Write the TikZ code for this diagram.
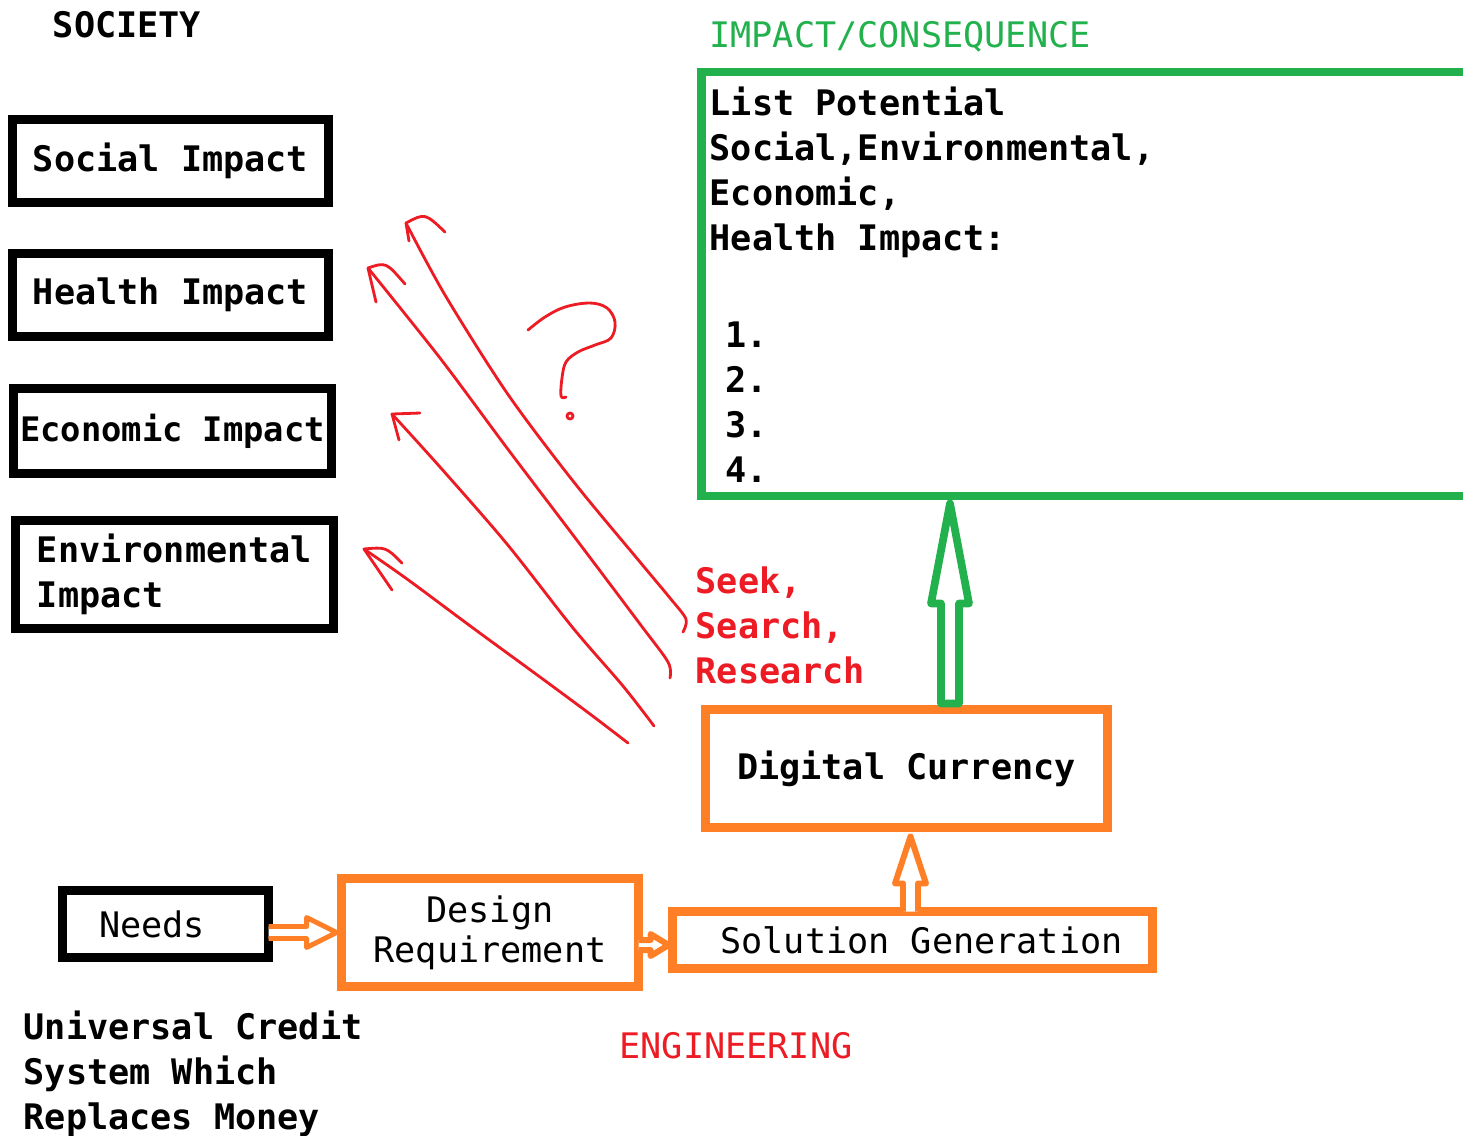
\documentclass[tikz,border=0pt]{standalone}
\usepackage{fontspec}
\setmainfont{DejaVu Sans Mono}
\usetikzlibrary{calc}

\definecolor{pgreen}{RGB}{34,177,76}
\definecolor{porange}{RGB}{255,127,39}
\definecolor{pred}{RGB}{237,28,36}

\tikzset{
  txt/.style={font=\fontsize{10}{12.8}\selectfont, inner sep=0pt},
  btxt/.style={font=\fontsize{10}{12.8}\selectfont\bfseries, inner sep=0pt},
  bbox/.style={btxt, draw=black, line width=2.5pt, outer sep=0pt},
  obox/.style={txt, draw=porange, line width=2.5pt, outer sep=0pt},
  hollow/.style={draw=#1, fill=white, line width=1.7pt, line join=round},
  pen/.style={draw=pred, line width=0.8pt, line cap=round, line join=round},
}

\begin{document}
\begin{tikzpicture}[x=0.01cm,y=-0.01cm]
\useasboundingbox (0,0) rectangle (1463,1135);

% society side
\node[btxt] (society) at (127,25) {SOCIETY};
\node[bbox, minimum width=3.16cm, minimum height=0.83cm] (social) at (170.5,161) {Social Impact};
\node[bbox, minimum width=3.16cm, minimum height=0.83cm] (health) at (170.5,295) {Health Impact};
\node[bbox, minimum width=3.18cm, minimum height=0.85cm, font=\fontsize{9.6}{12}\selectfont\bfseries] (economic) at (172.5,431) {Economic Impact};
\node[bbox, minimum width=3.18cm, minimum height=1.08cm, align=left] (environ) at (174.5,574.5) {Environmental\\Impact};

% engineering chain
\node[bbox, btxt, font=\fontsize{10}{12.8}\selectfont, minimum width=2.06cm, minimum height=0.67cm] (needs) at (165.5,924) {Needs\rule{0.27cm}{0pt}};
\node[obox, minimum width=2.97cm, minimum height=1.08cm, align=center, font=\fontsize{10}{11.4}\selectfont] (design) at (490,932.5) {Design\\Requirement};
\node[obox, minimum width=4.80cm, minimum height=0.57cm] (solution) at (912.5,940) {\rule{0.18cm}{0pt}Solution Generation};
\node[obox, btxt, minimum width=4.02cm, minimum height=1.18cm] (digital) at (906.5,768.5) {Digital Currency};

% impact box
\node[draw=pgreen, line width=2.3pt, inner sep=0pt, outer sep=0pt, minimum width=7.9cm, minimum height=4.24cm, anchor=north west] (impact) at (701.5,72) {};
\node[txt, text=pgreen] (impacthead) at (900,37) {IMPACT/CONSEQUENCE};
\node[btxt, align=left, anchor=north west] (impactlist) at (709,86) {List Potential\\Social,Environmental,\\Economic,\\Health Impact:\\[0.52cm]\hspace*{0.16cm}1.\\\hspace*{0.16cm}2.\\\hspace*{0.16cm}3.\\\hspace*{0.16cm}4.};

% labels
\node[btxt, text=pred, align=left, anchor=west] (seek) at (695,625) {Seek,\\Search,\\Research};
\node[txt, text=pred] (engineering) at (736,1046) {ENGINEERING};
\node[btxt, align=left, anchor=west] (ucs) at (23,1074) {Universal Credit\\System Which\\Replaces Money};

% hollow arrows
\coordinate (nbase) at (needs.east |- design.west);
\draw[hollow=porange, line width=1.4pt] (nbase) ++(0,-6) -- ++(38,0) -- ++(0,-9) -- ++(30,15) -- ++(-30,15) -- ++(0,-9) -- ++(-38,0);
\coordinate (dbase) at ($(design.east |- solution.west)+(0,5)$);
\draw[hollow=porange] (dbase) ++(0,-5) -- ++(12,0) -- ++(0,-6) -- ++(18,11) -- ++(-18,11) -- ++(0,-6) -- ++(-12,0);
\coordinate (sbase) at ($(solution.north)+(-2,0)$);
\draw[hollow=porange] (sbase) ++(-7.5,0) -- ++(0,-28) -- ++(-8,0) -- ++(15.5,-47) -- ++(15.5,47) -- ++(-8,0) -- ++(0,28);
\coordinate (gbase) at ($(digital.north)+(43.5,-6)$);
\draw[hollow=pgreen, line width=2.2pt] (gbase) ++(-9,0) -- ++(0,-100) -- ++(-10,0) -- ++(19,-100) -- ++(19,100) -- ++(-10,0) -- ++(0,100) -- cycle;

% red pen arrows
\coordinate (tip1) at (406,223);
\coordinate (tip2) at (368,268);
\coordinate (tip3) at (392,414);
\coordinate (tip4) at (364,549);
\coordinate (tail1) at (683,632);
\coordinate (tail2) at (670,678);
\coordinate (tail3) at (654,726);
\coordinate (tail4) at (628,743);
\draw[pen] plot[smooth] coordinates {(tail1) (686,619) (670,598) (640,562) (573,481) (507,393) (445,295) (tip1)};
\draw[pen] plot[smooth] coordinates {(tail2) (668,662) (640,624) (573,535) (507,448) (440,358) (tip2)};
\draw[pen] plot[smooth] coordinates {(tail3) (623,686) (573,628) (507,544) (440,467) (tip3)};
\draw[pen] plot[smooth] coordinates {(tail4) (590,714) (540,677) (473,628) (407,579) (tip4)};
\draw[pen] (445,232) .. controls (425,213) .. (tip1) -- (409,241);
\draw[pen] (405,284) .. controls (386,262) .. (tip2) -- (376,302);
\draw[pen] (420,413) -- (tip3) -- (399,440);
\draw[pen] (402,563) .. controls (386,547) .. (tip4) -- (392,590);

% question mark
\draw[pen] plot[smooth, tension=0.6] coordinates {(528,330) (545,317) (565,307) (590,303) (607,308) (615,322) (611,338) (595,345) (578,352) (566,362) (562,378) (561,396) (566,397)};
\draw[pen] (570,416) circle (0.03cm);
\end{tikzpicture}
\end{document}
